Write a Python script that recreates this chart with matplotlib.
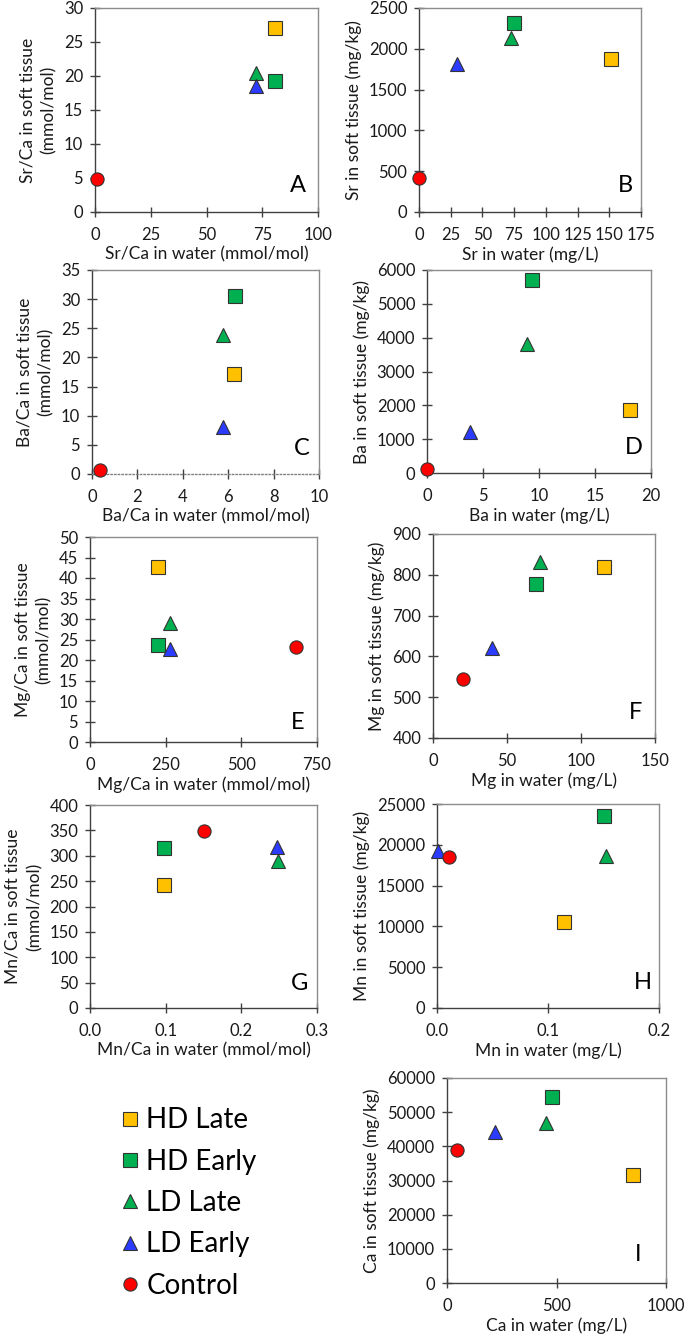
import matplotlib
matplotlib.use('Agg')
from matplotlib import pyplot as plt
from matplotlib.lines import Line2D

plt.rcParams['font.family'] = ['Lato', 'DejaVu Sans']

groups = ['HD Late', 'HD Early', 'LD Late', 'LD Early', 'Control']
colors = ['#FFC000', '#00B050', '#00B050', '#2B3BFF', '#FF0000']
markers = ['s', 's', '^', '^', 'o']

# order of every array: HD Late, HD Early, LD Late, LD Early, Control
srca_water = [80.5, 80.5, 72, 72, 1]
srca_tissue = [27.0, 19.2, 20.4, 18.6, 4.9]

sr_water = [151, 75, 72.3, 30, 0.3]
sr_tissue = [1876, 2315, 2130, 1814, 419]

baca_water = [6.27, 6.3, 5.78, 5.78, 0.37]
baca_tissue = [17.2, 30.6, 23.8, 8.1, 0.74]

ba_water = [18.1, 9.4, 8.9, 3.8, 0.03]
ba_tissue = [1850, 5700, 3820, 1220, 108]

mgca_water = [226, 225, 265, 265, 680]
mgca_tissue = [42.8, 23.6, 29.0, 22.8, 23.1]

mg_water = [115.7, 69.3, 72.2, 39.9, 20.3]
mg_tissue = [820, 778, 832, 620, 545]

mnca_water = [0.098, 0.098, 0.248, 0.247, 0.15]
mnca_tissue = [243, 316, 290, 318, 349]

mn_water = [0.114, 0.150, 0.152, 0.0006, 0.0105]
mn_tissue = [10520, 23490, 18680, 19250, 18560]

ca_water = [848, 480, 451, 221, 47]
ca_tissue = [31600, 54440, 46830, 44100, 39020]

W, H = 685, 1335


def box(x0, x1, y0, y1):
    return [x0 / W, 1 - y1 / H, (x1 - x0) / W, (y1 - y0) / H]


panels = [
    (srca_water, srca_tissue, 'Sr/Ca in water (mmol/mol)', 'Sr/Ca in soft tissue\n(mmol/mol)', 'A',
     (0, 100, 25), (0, 30, 5), box(95, 318, 8, 212), (0.91, 0.13), '%d'),
    (sr_water, sr_tissue, 'Sr in water (mg/L)', 'Sr in soft tissue (mg/kg)', 'B',
     (0, 175, 25), (0, 2500, 500), box(419, 641, 8, 212), (0.928, 0.13), '%d'),
    (baca_water, baca_tissue, 'Ba/Ca in water (mmol/mol)', 'Ba/Ca in soft tissue\n(mmol/mol)', 'C',
     (0, 10, 2), (0, 35, 5), box(92, 319, 270, 474), (0.925, 0.127), '%d'),
    (ba_water, ba_tissue, 'Ba in water (mg/L)', 'Ba in soft tissue (mg/kg)', 'D',
     (0, 20, 5), (0, 6000, 1000), box(427, 651, 270, 473), (0.924, 0.128), '%d'),
    (mgca_water, mgca_tissue, 'Mg/Ca in water (mmol/mol)', 'Mg/Ca in soft tissue\n(mmol/mol)', 'E',
     (0, 750, 250), (0, 50, 5), box(90, 317, 537, 742), (0.916, 0.093), '%d'),
    (mg_water, mg_tissue, 'Mg in water (mg/L)', 'Mg in soft tissue (mg/kg)', 'F',
     (0, 150, 50), (400, 900, 100), box(433, 655, 534, 738), (0.914, 0.127), '%d'),
    (mnca_water, mnca_tissue, 'Mn/Ca in water (mmol/mol)', 'Mn/Ca in soft tissue\n(mmol/mol)', 'G',
     (0, 0.3, 0.1), (0, 400, 50), box(90, 317, 805, 1008), (0.925, 0.123), '%.1f'),
    (mn_water, mn_tissue, 'Mn in water (mg/L)', 'Mn in soft tissue (mg/kg)', 'H',
     (0, 0.2, 0.1), (0, 25000, 5000), box(437, 659, 804, 1008), (0.928, 0.123), '%.1f'),
    (ca_water, ca_tissue, 'Ca in water (mg/L)', 'Ca in soft tissue (mg/kg)', 'I',
     (0, 1000, 500), (0, 60000, 10000), box(447, 666, 1078, 1283), (0.872, 0.137), '%d'),
]

fig = plt.figure(figsize=(W / 100, H / 100), dpi=100)

for xs, ys, xlab, ylab, letter, xl, yl, pos, lpos, xfmt in panels:
    ax = fig.add_axes(pos)
    for i in range(len(groups)):
        ax.plot(xs[i], ys[i], linestyle='none', marker=markers[i], markersize=9.5,
                markerfacecolor=colors[i], markeredgecolor='#333333', markeredgewidth=0.8,
                clip_on=False, zorder=3)
    ax.set_xlim(xl[0], xl[1])
    ax.set_ylim(yl[0], yl[1])
    nx = int(round((xl[1] - xl[0]) / xl[2]))
    ny = int(round((yl[1] - yl[0]) / yl[2]))
    xt = [xl[0] + k * xl[2] for k in range(nx + 1)]
    yt = [yl[0] + k * yl[2] for k in range(ny + 1)]
    ax.set_xticks(xt)
    ax.set_xticklabels([xfmt % v for v in xt])
    ax.set_yticks(yt)
    ax.set_yticklabels(['%d' % v for v in yt])
    ax.tick_params(direction='inout', length=7, width=1, color='#404040',
                   labelsize=12, labelcolor='#1a1a1a')
    ax.tick_params(axis='x', pad=7)
    ax.tick_params(axis='y', pad=5)
    for s in ['left', 'bottom']:
        ax.spines[s].set_color('#404040')
        ax.spines[s].set_linewidth(1)
    for s in ['top', 'right']:
        ax.spines[s].set_color('#8c8c8c')
        ax.spines[s].set_linewidth(1)
    if letter == 'C':
        ax.spines['bottom'].set_linestyle(':')
        ax.spines['bottom'].set_color('#808080')
    ax.set_xlabel(xlab, fontsize=12.5, color='#1a1a1a', labelpad=3)
    ax.set_ylabel(ylab, fontsize=12.5, color='#1a1a1a', labelpad=5, linespacing=1.4)
    ax.text(lpos[0], lpos[1], letter, transform=ax.transAxes, fontsize=17,
            ha='center', va='center', color='black')

handles = [Line2D([], [], linestyle='none', marker=markers[i], markersize=9.5,
                  markerfacecolor=colors[i], markeredgecolor='#333333', markeredgewidth=0.8)
           for i in range(len(groups))]
fig.legend(handles, groups, loc='center left', bbox_to_anchor=(102 / W, 1 - 1203 / H),
           frameon=False, fontsize=20, handletextpad=0.1, labelspacing=0.55,
           handlelength=1.0, borderpad=0)

fig.savefig('out.png', dpi=100)
